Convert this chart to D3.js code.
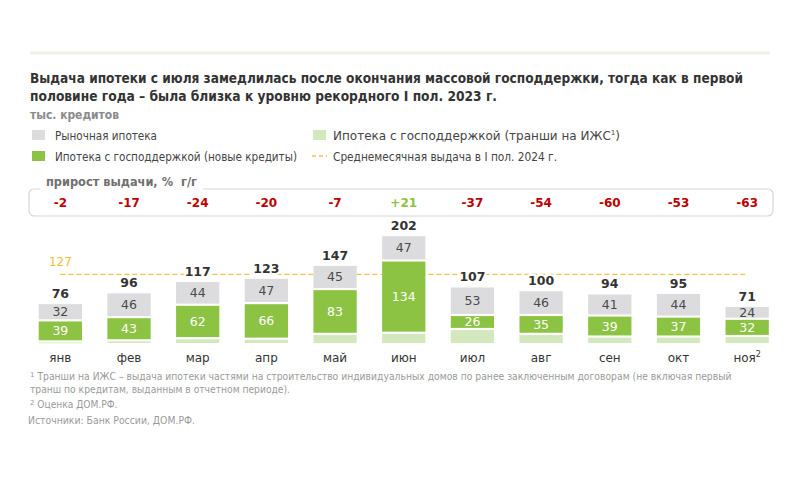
<!DOCTYPE html>
<html><head><meta charset="utf-8">
<script src="https://cdn.jsdelivr.net/npm/d3@7"></script>
<style>
body{margin:0;background:#fff;}
svg{display:block;font-family:"DejaVu Sans",Verdana,sans-serif;}
</style></head>
<body><svg id="c" width="800" height="477"></svg>
<script>
const months = ["янв","фев","мар","апр","май","июн","июл","авг","сен","окт","ноя"];
const totals = [76,96,117,123,147,202,107,100,94,95,71];
const market = [32,46,44,47,45,47,53,46,41,44,24];
const newLoans = [39,43,62,66,83,134,26,35,39,37,32];
const tranches = [5,7,11,10,19,21,28,19,14,14,15];
const growth = ["-2","-17","-24","-20","-7","+21","-37","-54","-60","-53","-63"];
const avgValue = 127;

const svg = d3.select("#c");
const C = {gray:"#dcdcde", green:"#8cc342", light:"#d3e8bd", gold:"#f3c53c", red:"#c00000", text:"#333"};

// decorative top line
svg.append("line").attr("x1",30).attr("x2",770).attr("y1",53).attr("y2",53)
  .attr("stroke","#eef1e6").attr("stroke-width",3);

// title
svg.append("text").attr("x",30).attr("y",83).attr("font-size",14).attr("font-weight","bold").attr("fill","#333")
  .attr("textLength",713).attr("lengthAdjust","spacingAndGlyphs")
  .text("Выдача ипотеки с июля замедлилась после окончания массовой господдержки, тогда как в первой");
svg.append("text").attr("x",30).attr("y",101).attr("font-size",14).attr("font-weight","bold").attr("fill","#333")
  .attr("textLength",467).attr("lengthAdjust","spacingAndGlyphs")
  .text("половине года – была близка к уровню рекордного I пол. 2023 г.");
svg.append("text").attr("x",30).attr("y",119).attr("font-size",12).attr("font-weight","bold").attr("fill","#8a8a8a")
  .attr("textLength",89).attr("lengthAdjust","spacingAndGlyphs").text("тыс. кредитов");

// legend
const lg = svg.append("g").attr("font-size",12).attr("fill","#444");
function sw(x,y,col){lg.append("rect").attr("x",x).attr("y",y).attr("width",13).attr("height",10).attr("fill",col);}
sw(32,130,C.gray); sw(32,151,C.green); sw(313,130,C.light);
lg.append("line").attr("x1",312).attr("x2",327).attr("y1",156).attr("y2",156).attr("stroke",C.gold).attr("stroke-width",1.3).attr("stroke-dasharray","4,3");
lg.append("text").attr("x",55).attr("y",140).attr("textLength",102).attr("lengthAdjust","spacingAndGlyphs").text("Рыночная ипотека");
lg.append("text").attr("x",55).attr("y",161).attr("textLength",242).attr("lengthAdjust","spacingAndGlyphs").text("Ипотека с господдержкой (новые кредиты)");
const t3 = lg.append("text").attr("x",333).attr("y",140);
t3.append("tspan").text("Ипотека с господдержкой (транши на ИЖС");
t3.append("tspan").attr("font-size",7).attr("dy",-5).text("1");
t3.append("tspan").attr("dy",5).text(")");
lg.append("text").attr("x",333).attr("y",161).attr("textLength",224).attr("lengthAdjust","spacingAndGlyphs").text("Среднемесячная выдача в I пол. 2024 г.");

// scales
const x = d3.scaleBand().domain(months).range([26,781.5]).paddingInner(0.37).paddingOuter(0.185);
const y = d3.scaleLinear().domain([0,202]).range([343,234]);
const cx = m => x(m)+x.bandwidth()/2;

// growth box
svg.append("rect").attr("x",29).attr("y",189).attr("width",744).attr("height",27).attr("rx",5)
  .attr("fill","none").attr("stroke","#d6d6d6").attr("stroke-width",1.2);
svg.append("rect").attr("x",40).attr("y",180).attr("width",163).attr("height",14).attr("fill","#fff");
svg.append("text").attr("x",46).attr("y",186).attr("font-size",12).attr("font-weight","bold").attr("fill","#707070")
  .attr("textLength",151).attr("lengthAdjust","spacingAndGlyphs").text("прирост выдачи, %\u00a0\u00a0г/г");
svg.append("g").selectAll("text").data(months).join("text")
  .attr("x",d=>cx(d)).attr("y",207).attr("text-anchor","middle").attr("font-size",12).attr("font-weight","bold")
  .attr("fill",(d,i)=>growth[i].startsWith("+")?C.green:C.red).text((d,i)=>growth[i]);

// average line
svg.append("line").attr("x1",cx(months[0])).attr("x2",cx(months[10])+1).attr("y1",y(avgValue)).attr("y2",y(avgValue))
  .attr("stroke",C.gold).attr("stroke-width",1.2).attr("stroke-dasharray","5,3");
svg.append("text").attr("x",cx(months[0])).attr("y",y(avgValue)-8).attr("text-anchor","middle")
  .attr("font-size",12).attr("fill","#f0bf30").text(avgValue);

// stacked bars
const rows = months.map((m,i)=>({m, tr:tranches[i], nw:newLoans[i], mk:market[i], tot:totals[i]}));
const stack = d3.stack().keys(["tr","nw","mk"])(rows);
const colors = {tr:C.light, nw:C.green, mk:C.gray};
const gap = 2.2;
const g = svg.append("g");
stack.forEach(layer=>{
  const k = layer.key;
  const lg2 = g.append("g");
  lg2.selectAll("rect").data(layer).join("rect")
    .attr("x",d=>x(d.data.m)).attr("width",x.bandwidth())
    .attr("y",d=>y(d[1])+gap).attr("height",d=>Math.max(0.8,y(d[0])-y(d[1])-gap))
    .attr("fill",colors[k]);
  if(k!=="tr"){
    lg2.selectAll("text").data(layer).join("text")
      .attr("x",d=>cx(d.data.m)).attr("y",d=>(y(d[1])+gap+y(d[0]))/2+4.5)
      .attr("text-anchor","middle").attr("font-size",12.5)
      .attr("fill",k==="nw"?"#fff":"#4a4a4a").text(d=>d.data[k]);
  }
});
// totals
g.append("g").selectAll("text").data(rows).join("text")
  .attr("x",d=>cx(d.m)).attr("y",d=>y(d.tot)+gap-6).attr("text-anchor","middle")
  .attr("font-size",12.5).attr("font-weight","bold").attr("fill","#333")
  .attr("stroke","#fff").attr("stroke-width",4).attr("paint-order","stroke").text(d=>d.tot);

// x axis labels
const ax = svg.append("g").attr("transform","translate(0,343)")
  .call(d3.axisBottom(x).tickSize(0).tickPadding(0));
ax.select(".domain").remove();
ax.selectAll("text").attr("font-size",12).attr("fill","#333").attr("dy",0).attr("y",19)
  .attr("font-family","DejaVu Sans, Verdana, sans-serif");
ax.selectAll(".tick").filter(d=>d==="ноя").select("text").append("tspan")
  .attr("font-size",8).attr("dy",-5).text("2");

// footnotes
const fn = svg.append("g").attr("font-size",10.5).attr("fill","#9a9a9a");
const f1 = fn.append("text").attr("x",30).attr("y",380);
f1.append("tspan").attr("font-size",7).attr("dy",-3).text("1");
f1.append("tspan").attr("dy",3).attr("textLength",697).attr("lengthAdjust","spacingAndGlyphs")
  .text(" Транши на ИЖС – выдача ипотеки частями на строительство индивидуальных домов по ранее заключенным договорам (не включая первый");
fn.append("text").attr("x",30).attr("y",393).attr("textLength",260).attr("lengthAdjust","spacingAndGlyphs")
  .text("транш по кредитам, выданным в отчетном периоде).");
const f2 = fn.append("text").attr("x",30).attr("y",408);
f2.append("tspan").attr("font-size",7).attr("dy",-3).text("2");
f2.append("tspan").attr("dy",3).attr("textLength",83).attr("lengthAdjust","spacingAndGlyphs").text(" Оценка ДОМ.РФ.");
fn.append("text").attr("x",28).attr("y",424).attr("textLength",167).attr("lengthAdjust","spacingAndGlyphs")
  .text("Источники: Банк России, ДОМ.РФ.");
</script></body></html>
